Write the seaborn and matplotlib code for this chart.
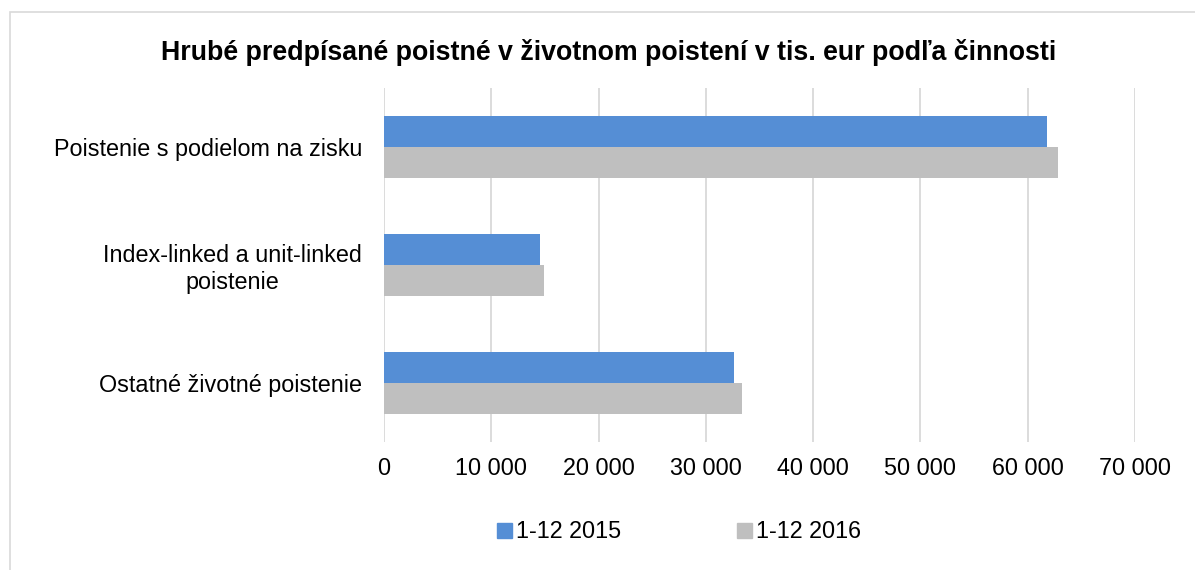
import matplotlib
matplotlib.use("Agg")
import matplotlib.pyplot as plt
import seaborn as sns
import pandas as pd
from matplotlib.patches import Rectangle
from matplotlib.ticker import FuncFormatter

categories = ["Poistenie s podielom na zisku", "Index-linked a unit-linked\npoistenie", "Ostatné životné poistenie"]
series_names = ["1-12 2015", "1-12 2016"]
values_2015 = [61790, 14550, 32650]
values_2016 = [62850, 14925, 33400]
title = "Hrubé predpísané poistné v životnom poistení v tis. eur podľa činnosti"

df = pd.DataFrame({
    "cat": categories * 2,
    "series": [series_names[0]] * 3 + [series_names[1]] * 3,
    "val": values_2015 + values_2016,
})

sns.set_theme(style="white")
plt.rcParams["font.family"] = ["Liberation Sans", "DejaVu Sans"]
plt.rcParams["text.color"] = "#000000"

fig = plt.figure(figsize=(11.95, 5.7), dpi=100)
ax = fig.add_axes([384 / 1195, 1 - 442 / 570, (1135 - 384) / 1195, (442 - 88) / 570])

colors = ["#558ED5", "#BFBFBF"]
sns.barplot(data=df, y="cat", x="val", hue="series", orient="h", palette=colors,
            width=0.525, ax=ax, legend=False, saturation=1, linewidth=0)

ax.set_xlim(0, 70000)
ax.set_xticks(range(0, 70001, 10000))
ax.xaxis.set_major_formatter(FuncFormatter(lambda v, p: f"{int(v):,}".replace(",", " ")))
ax.grid(axis="x", color="#D9D9D9", linewidth=1.3)
ax.set_axisbelow(True)
for s in ax.spines.values():
    s.set_visible(False)
ax.set_xlabel("")
ax.set_ylabel("")
ax.tick_params(axis="x", labelsize=16.8, colors="#000000", pad=11, length=0)
ax.tick_params(axis="y", labelsize=16.8, colors="#000000", pad=15.8, length=0)
for t in ax.get_yticklabels():
    t.set_multialignment("center")

fig.text(609 / 1195, 1 - 52 / 570, title, ha="center", va="center", fontsize=19.3,
         fontweight="bold", color="#000000")

handles = [Rectangle((0, 0), 1, 1, color=c) for c in colors]
leg = fig.legend(handles, series_names, loc="center", bbox_to_anchor=(679 / 1195, 1 - 532 / 570),
                 ncol=2, frameon=False, fontsize=16.8, handlelength=0.65, handleheight=0.65,
                 handletextpad=0.15, columnspacing=4.97)
for t in leg.get_texts():
    t.set_color("#000000")

fig.patches.append(Rectangle((10 / 1195, -0.01), 1.0, 1 - 12 / 570 + 0.01, transform=fig.transFigure,
                             fill=False, edgecolor="#D9D9D9", linewidth=1.2))

fig.savefig("out.png", dpi=100)
